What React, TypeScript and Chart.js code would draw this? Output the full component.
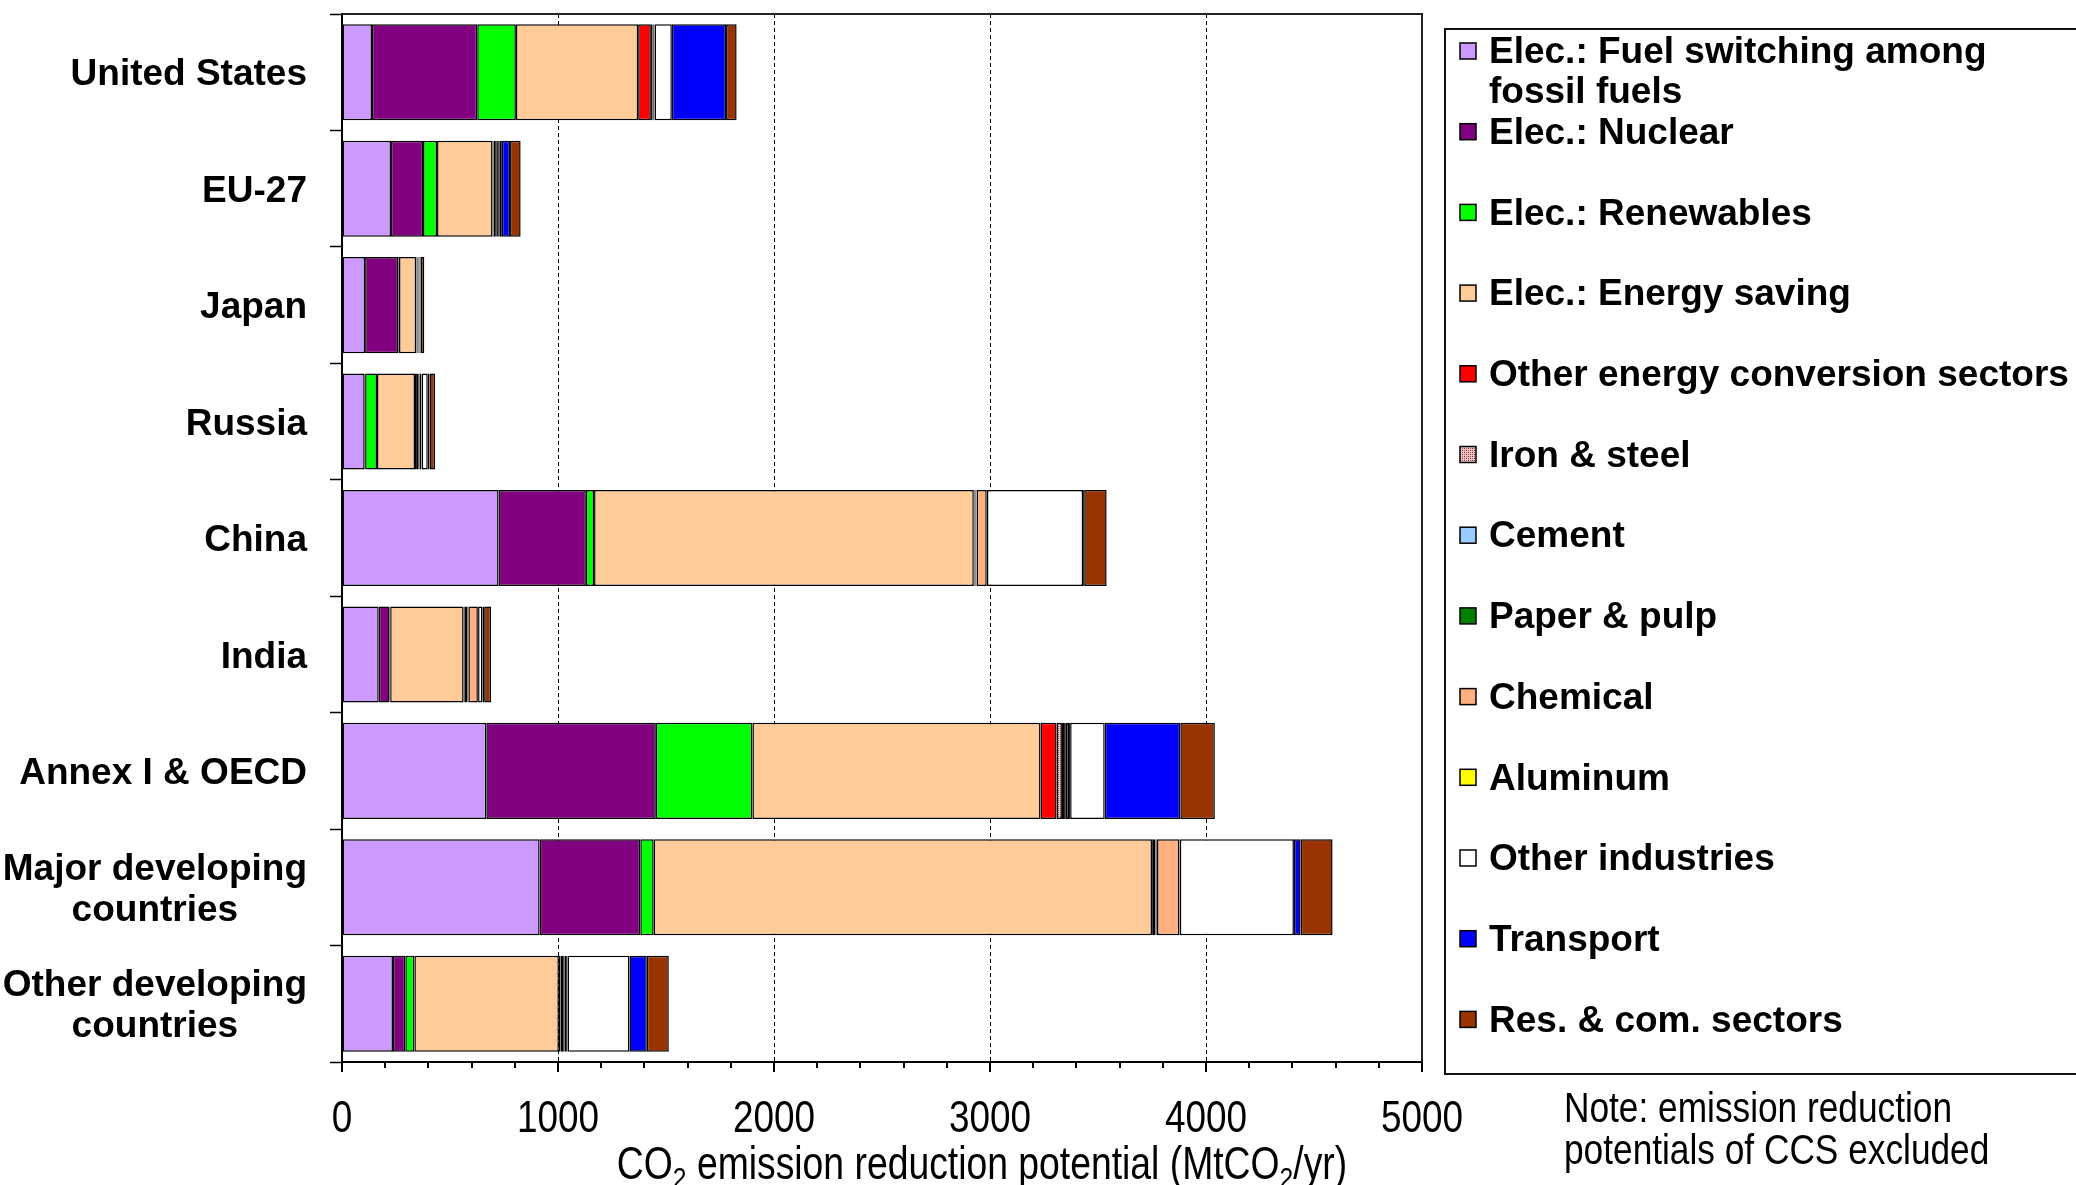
import React, { useEffect, useRef } from 'react';
import { Chart, registerables } from 'chart.js';

Chart.register(...registerables);

// ---------- data ----------
const regions = [
  'United States',
  'EU-27',
  'Japan',
  'Russia',
  'China',
  'India',
  'Annex I & OECD',
  'Major developing countries',
  'Other developing countries',
];
const regionLabelLines = [
  ['United States'],
  ['EU-27'],
  ['Japan'],
  ['Russia'],
  ['China'],
  ['India'],
  ['Annex I & OECD'],
  ['Major developing', 'countries'],
  ['Other developing', 'countries'],
];

const sectorNames = [
  'Elec.: Fuel switching among fossil fuels',
  'Elec.: Nuclear',
  'Elec.: Renewables',
  'Elec.: Energy saving',
  'Other energy conversion sectors',
  'Iron & steel',
  'Cement',
  'Paper & pulp',
  'Chemical',
  'Aluminum',
  'Other industries',
  'Transport',
  'Res. & com. sectors',
];
const legendLines = [
  ['Elec.: Fuel switching among', 'fossil fuels'],
  ['Elec.: Nuclear'],
  ['Elec.: Renewables'],
  ['Elec.: Energy saving'],
  ['Other energy conversion sectors'],
  ['Iron & steel'],
  ['Cement'],
  ['Paper & pulp'],
  ['Chemical'],
  ['Aluminum'],
  ['Other industries'],
  ['Transport'],
  ['Res. & com. sectors'],
];

// MtCO2/yr, in the order of `regions`
const fuelSwitching = [139, 227, 107, 105, 725, 170, 668, 915, 236];
const nuclear = [487, 148, 154, 2, 404, 50, 785, 466, 57];
const renewables = [179, 65, 3, 55, 38, 3, 447, 62, 42];
const energySaving = [566, 257, 79, 176, 1758, 340, 1334, 2307, 669];
const otherEnergyConversion = [59, 4, 2, 5, 3, 3, 74, 4, 8];
const ironSteel = [5, 8, 5, 10, 5, 14, 25, 12, 12];
const cement = [3, 5, 2, 4, 3, 3, 10, 4, 4];
const paperPulp = [3, 4, 2, 3, 2, 2, 8, 3, 3];
const chemical = [4, 8, 4, 7, 47, 44, 15, 104, 10];
const aluminum = [2, 2, 1, 2, 1, 1, 5, 2, 3];
const otherIndustries = [80, 12, 3, 28, 445, 20, 160, 528, 287];
const transport = [251, 38, 3, 8, 5, 8, 350, 31, 80];
const resCom = [49, 49, 16, 26, 104, 32, 160, 148, 102];

const seriesValues = [
  fuelSwitching,
  nuclear,
  renewables,
  energySaving,
  otherEnergyConversion,
  ironSteel,
  cement,
  paperPulp,
  chemical,
  aluminum,
  otherIndustries,
  transport,
  resCom,
];

const xTickValues = [0, 1000, 2000, 3000, 4000, 5000];

const sectorColors = [
  '#CC99FF',
  '#800080',
  '#00FF00',
  '#FFCC99',
  '#FF0000',
  'PATTERN',
  '#99CCFF',
  '#008000',
  '#FFAF80',
  '#FFFF00',
  '#FFFFFF',
  '#0000FF',
  '#993300',
];

// ---------- helpers ----------
let narrowAvailable: boolean | null = null;
function hasNarrow(ctx: CanvasRenderingContext2D) {
  if (narrowAvailable !== null) return narrowAvailable;
  ctx.save();
  ctx.font = '40px "Liberation Sans Narrow", monospace';
  const a = ctx.measureText('abcdefghij0123 Note').width;
  ctx.font = '40px monospace';
  const b = ctx.measureText('abcdefghij0123 Note').width;
  ctx.restore();
  narrowAvailable = Math.abs(a - b) > 0.5;
  return narrowAvailable;
}

function setNarrow(ctx: CanvasRenderingContext2D, size: number) {
  if (hasNarrow(ctx)) {
    ctx.font = `${size}px "Liberation Sans Narrow"`;
    return 1;
  }
  ctx.font = `${size}px "Liberation Sans", Arial, sans-serif`;
  return 0.82;
}

type Seg = { t: string; sub?: boolean };
function drawNarrowRich(
  ctx: CanvasRenderingContext2D,
  segs: Seg[],
  x: number,
  y: number,
  size: number,
  align: 'left' | 'center' | 'right'
) {
  ctx.save();
  const subSize = Math.round(size * 0.65);
  let total = 0;
  const widths: number[] = [];
  for (const s of segs) {
    const k = setNarrow(ctx, s.sub ? subSize : size);
    const w = ctx.measureText(s.t).width * k;
    widths.push(w);
    total += w;
  }
  let cx = align === 'left' ? x : align === 'center' ? x - total / 2 : x - total;
  ctx.fillStyle = '#000';
  ctx.textAlign = 'left';
  ctx.textBaseline = 'alphabetic';
  segs.forEach((s, i) => {
    const k = setNarrow(ctx, s.sub ? subSize : size);
    ctx.save();
    ctx.translate(cx, y + (s.sub ? size * 0.2 : 0));
    ctx.scale(k, 1);
    ctx.fillText(s.t, 0, 0);
    ctx.restore();
    cx += widths[i];
  });
  ctx.restore();
}

function makePattern(): CanvasPattern | string {
  const c = document.createElement('canvas');
  c.width = 4;
  c.height = 4;
  const g = c.getContext('2d');
  if (!g) return '#CC9999';
  g.fillStyle = '#E8C4C4';
  g.fillRect(0, 0, 4, 4);
  g.fillStyle = '#8A2A2A';
  g.fillRect(0, 0, 1, 1);
  g.fillRect(2, 2, 1, 1);
  g.fillStyle = '#B05A5A';
  g.fillRect(2, 0, 1, 1);
  g.fillRect(0, 2, 1, 1);
  const p = g.createPattern(c, 'repeat');
  return p || '#CC9999';
}

const BOLD = '"Liberation Sans", Arial, Helvetica, sans-serif';

const decorPlugin = {
  id: 'decor',
  afterDraw(chart: any) {
    const { ctx, chartArea, scales } = chart;
    const xs = scales.x;
    const ys = scales.y;
    ctx.save();

    // plot frame: top & right
    ctx.strokeStyle = '#222';
    ctx.lineWidth = 2;
    ctx.setLineDash([]);
    ctx.beginPath();
    ctx.moveTo(chartArea.left, chartArea.top);
    ctx.lineTo(chartArea.right, chartArea.top);
    ctx.lineTo(chartArea.right, chartArea.bottom);
    ctx.stroke();

    // x tick marks (major every 1000, minor every 200)
    ctx.strokeStyle = '#000';
    ctx.lineWidth = 2;
    for (const t of xs.ticks) {
      const px = Math.round(xs.getPixelForValue(t.value));
      const len = t.value % 1000 === 0 ? 10 : 6;
      ctx.beginPath();
      ctx.moveTo(px, chartArea.bottom);
      ctx.lineTo(px, chartArea.bottom + len);
      ctx.stroke();
    }

    // x tick labels
    for (const v of xTickValues) {
      const px = xs.getPixelForValue(v);
      drawNarrowRich(ctx, [{ t: String(v) }], px, 1132, 45, 'center');
    }

    // x title
    drawNarrowRich(
      ctx,
      [
        { t: 'CO' },
        { t: '2', sub: true },
        { t: ' emission reduction potential (MtCO' },
        { t: '2', sub: true },
        { t: '/yr)' },
      ],
      982,
      1179,
      45.5,
      'center'
    );

    // note
    drawNarrowRich(ctx, [{ t: 'Note: emission reduction' }], 1564, 1122, 43, 'left');
    drawNarrowRich(ctx, [{ t: 'potentials of CCS excluded' }], 1564, 1164, 43, 'left');

    // y category labels
    ctx.font = `bold 37px ${BOLD}`;
    ctx.fillStyle = '#000';
    ctx.textBaseline = 'middle';
    ctx.textAlign = 'center';
    const rightEdge = 307;
    regionLabelLines.forEach((lines, i) => {
      const cy = ys.getPixelForValue(i);
      const maxW = Math.max(...lines.map((l) => ctx.measureText(l).width));
      const cx = rightEdge - maxW / 2;
      lines.forEach((l, j) => {
        ctx.fillText(l, cx, cy + (j - (lines.length - 1) / 2) * 41 + 3);
      });
    });

    // legend
    const boxLeft = 1445;
    const boxTop = 29;
    const boxBottom = 1074;
    ctx.strokeStyle = '#111';
    ctx.lineWidth = 2;
    ctx.beginPath();
    ctx.moveTo(chart.width + 5, boxTop);
    ctx.lineTo(boxLeft, boxTop);
    ctx.lineTo(boxLeft, boxBottom);
    ctx.lineTo(chart.width + 5, boxBottom);
    ctx.stroke();

    const ds = chart.data.datasets;
    ctx.textAlign = 'left';
    ctx.textBaseline = 'middle';
    ctx.font = `bold 37px ${BOLD}`;
    legendLines.forEach((lines, i) => {
      const cy = 51 + i * 80.7;
      ctx.fillStyle = ds[i].backgroundColor;
      ctx.fillRect(1460, cy - 8, 16, 16);
      ctx.strokeStyle = '#000';
      ctx.lineWidth = 1.5;
      ctx.strokeRect(1460, cy - 8, 16, 16);
      ctx.fillStyle = '#000';
      lines.forEach((l, j) => {
        ctx.fillText(l, 1489, cy + j * 40 + 2);
      });
    });

    ctx.restore();
  },
};

export default function App() {
  const canvasRef = useRef<HTMLCanvasElement | null>(null);

  useEffect(() => {
    const canvas = canvasRef.current;
    if (!canvas) return;
    const pattern = makePattern();

    const chart = new Chart(canvas, {
      type: 'bar',
      data: {
        labels: regions,
        datasets: sectorNames.map((name, i) => ({
          label: name,
          data: seriesValues[i],
          backgroundColor: sectorColors[i] === 'PATTERN' ? (pattern as any) : sectorColors[i],
          borderColor: '#000',
          borderWidth: 1.5,
          borderSkipped: false,
          barPercentage: 0.825,
          categoryPercentage: 1,
        })),
      },
      options: {
        indexAxis: 'y',
        responsive: false,
        animation: false,
        events: [],
        layout: { padding: { left: 0, top: 14, right: 654, bottom: 0 } },
        plugins: {
          legend: { display: false },
          tooltip: { enabled: false },
          title: { display: false },
        },
        scales: {
          x: {
            stacked: true,
            min: 0,
            max: 5000,
            ticks: { stepSize: 200, autoSkip: false, display: false },
            grid: {
              drawTicks: false,
              drawOnChartArea: true,
              lineWidth: 1,
              color: (c: any) =>
                c.tick && c.tick.value % 1000 === 0 && c.tick.value > 0 && c.tick.value < 5000
                  ? '#000'
                  : 'rgba(0,0,0,0)',
            },
            border: { display: true, color: '#000', width: 2, dash: [4, 3] },
            afterFit: (s: any) => {
              s.height = 123;
            },
          },
          y: {
            stacked: true,
            ticks: { display: false },
            grid: {
              offset: true,
              drawOnChartArea: false,
              drawTicks: true,
              tickLength: 12,
              tickColor: '#000',
              tickWidth: 1.5,
            },
            border: { display: true, color: '#000', width: 2 },
            afterFit: (s: any) => {
              s.width = 342;
            },
          },
        },
      } as any,
      plugins: [decorPlugin],
    });

    return () => {
      chart.destroy();
    };
  }, []);

  return (
    <div style={{ position: 'absolute', left: 0, top: 0, width: 2076, height: 1185, background: '#fff' }}>
      <canvas ref={canvasRef} width={2076} height={1185} style={{ display: 'block' }} />
    </div>
  );
}
